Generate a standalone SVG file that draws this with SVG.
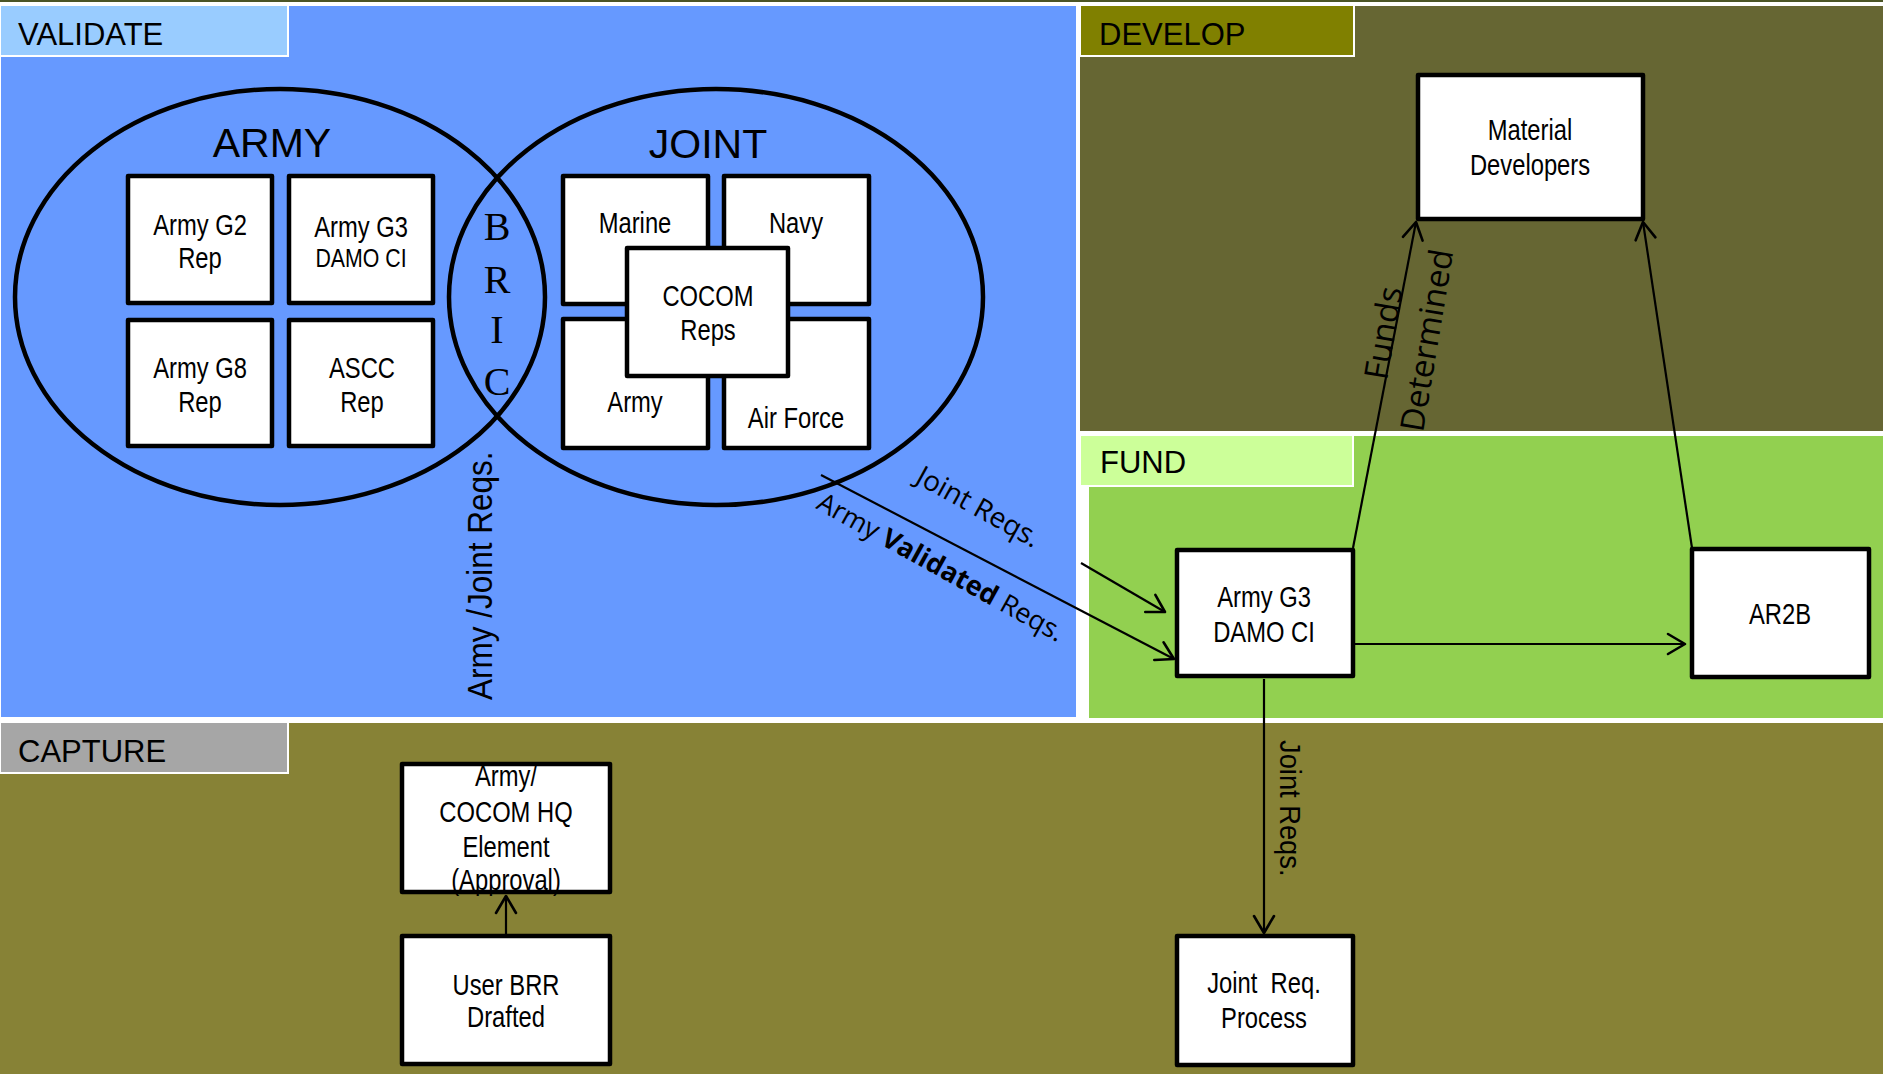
<svg xmlns="http://www.w3.org/2000/svg" width="1883" height="1074" viewBox="0 0 1883 1074">
<style>
.lbl{font-family:"Liberation Sans",Arial,sans-serif;font-size:31px;fill:#000}
.big{font-family:"Liberation Sans",Arial,sans-serif;font-size:41px;fill:#000;text-anchor:middle}
.nt{font-family:"Liberation Sans",Arial,sans-serif;font-size:29px;fill:#000;text-anchor:middle}
.sm{font-size:26px}
.bric{font-family:"Liberation Serif","Times New Roman",serif;font-size:40px;fill:#000;text-anchor:middle}
.hum{font-family:"Open Sans","Noto Sans",sans-serif;font-size:28px;fill:#000}
.hum27{font-size:27px}
.hum33{font-size:33px}
.ari{font-family:"Liberation Sans",Arial,sans-serif;fill:#000}
.a35{font-size:35px}
.a30{font-size:30px}
.box{fill:#fff;stroke:#000;stroke-width:4.5;stroke-linejoin:round}
.ell{fill:none;stroke:#000;stroke-width:4.5}
.con{fill:none;stroke:#000;stroke-width:2.2}
.tag{stroke:#fff;stroke-width:2}
</style>
<defs>
<marker id="arr" markerUnits="userSpaceOnUse" markerWidth="24" markerHeight="26" refX="18" refY="11" orient="auto" overflow="visible">
<path d="M1,1 L18,11 L1,21" fill="none" stroke="#000" stroke-width="2.6" stroke-linejoin="round" stroke-linecap="round"/>
</marker>
</defs>
<rect x="0" y="0" width="1883" height="1074" fill="#fff"/>
<rect x="0" y="0" width="1883" height="2" fill="#4b5526"/>
<g id="panels">
<rect x="1" y="6" width="1075" height="711" fill="#6699ff"/>
<rect class="tag" x="0" y="5" width="288" height="51" fill="#99ccff"/>
<text class="lbl" x="18" y="45">VALIDATE</text>
<rect x="1080" y="6" width="803" height="425" fill="#666633"/>
<rect class="tag" x="1080" y="5" width="274" height="51" fill="#808000"/>
<text class="lbl" x="1099" y="45">DEVELOP</text>
<rect x="1089" y="436" width="794" height="282" fill="#92d050"/>
<rect class="tag" x="1080" y="435" width="273" height="51" fill="#ccff99"/>
<text class="lbl" x="1100" y="473">FUND</text>
<rect x="0" y="723" width="1883" height="351" fill="#878236"/>
<rect class="tag" x="0" y="722" width="288" height="51" fill="#a6a6a6"/>
<text class="lbl" x="18" y="762">CAPTURE</text>
</g>
<g id="army-circle">
<ellipse class="ell" cx="280" cy="297" rx="265" ry="208"/>
<text class="big" x="272" y="157">ARMY</text>
</g>
<g id="joint-circle">
<ellipse class="ell" cx="716" cy="297" rx="267" ry="208"/>
<text class="big" x="708" y="158">JOINT</text>
</g>
<g id="bric">
<text class="bric" x="497" y="240">B</text>
<text class="bric" x="497" y="293">R</text>
<text class="bric" x="497" y="343">I</text>
<text class="bric" x="497" y="395">C</text>
</g>
<g id="army-g2">
<rect class="box" x="128" y="176" width="144" height="127"/>
<g transform="translate(200,0) scale(0.82,1)"><text class="nt" x="0" y="235">Army G2</text><text class="nt" x="0" y="268">Rep</text></g>
</g>
<g id="army-g3-validate">
<rect class="box" x="289" y="176" width="144" height="127"/>
<g transform="translate(361,0) scale(0.82,1)"><text class="nt" x="0" y="237">Army G3</text><text class="nt sm" x="0" y="267">DAMO CI</text></g>
</g>
<g id="army-g8">
<rect class="box" x="128" y="320" width="144" height="126"/>
<g transform="translate(200,0) scale(0.82,1)"><text class="nt" x="0" y="378">Army G8</text><text class="nt" x="0" y="412">Rep</text></g>
</g>
<g id="ascc">
<rect class="box" x="289" y="320" width="144" height="126"/>
<g transform="translate(362,0) scale(0.82,1)"><text class="nt" x="0" y="378">ASCC</text><text class="nt" x="0" y="412">Rep</text></g>
</g>
<g id="marine">
<rect class="box" x="563" y="176" width="145" height="128"/>
<g transform="translate(635,0) scale(0.82,1)"><text class="nt" x="0" y="233">Marine</text></g>
</g>
<g id="navy">
<rect class="box" x="724" y="176" width="145" height="128"/>
<g transform="translate(796,0) scale(0.82,1)"><text class="nt" x="0" y="233">Navy</text></g>
</g>
<g id="army-joint">
<rect class="box" x="563" y="319" width="145" height="129"/>
<g transform="translate(635,0) scale(0.82,1)"><text class="nt" x="0" y="412">Army</text></g>
</g>
<g id="air-force">
<rect class="box" x="724" y="319" width="145" height="129"/>
<g transform="translate(796,0) scale(0.82,1)"><text class="nt" x="0" y="428">Air Force</text></g>
</g>
<g id="cocom-reps">
<rect class="box" x="627" y="248" width="161" height="128"/>
<g transform="translate(708,0) scale(0.82,1)"><text class="nt" x="0" y="306">COCOM</text><text class="nt" x="0" y="340">Reps</text></g>
</g>
<g id="connectors">
<line class="con" x1="506" y1="934" x2="506" y2="896" marker-end="url(#arr)"/>
<line class="con" x1="821" y1="475" x2="1174" y2="659" marker-end="url(#arr)"/>
<line class="con" x1="1081" y1="563" x2="1165" y2="612" marker-end="url(#arr)"/>
<line class="con" x1="1353" y1="548" x2="1416" y2="222" marker-end="url(#arr)"/>
<line class="con" x1="1692" y1="548" x2="1643" y2="222" marker-end="url(#arr)"/>
<line class="con" x1="1355" y1="644" x2="1685" y2="644" marker-end="url(#arr)"/>
<line class="con" x1="1264" y1="679" x2="1264" y2="933" marker-end="url(#arr)"/>
</g>
<g id="connector-labels">
<g transform="translate(492,700) rotate(-90) scale(0.9,1)"><text class="ari a35" x="0" y="0">Army /Joint Reqs.</text></g>
<text class="hum" transform="translate(914,482) rotate(29)">Joint Reqs.</text>
<text class="hum hum27" transform="translate(815,508) rotate(29)">Army <tspan font-weight="bold">Validated</tspan> Reqs.</text>
<text class="hum hum33" transform="translate(1387,381) rotate(-80.5)">Funds</text>
<text class="hum hum33" transform="translate(1423,433) rotate(-80.5)">Determined</text>
<g transform="translate(1280,740) rotate(90) scale(0.91,1)"><text class="ari a30" x="0" y="0">Joint Reqs.</text></g>
</g>
<g id="material-developers">
<rect class="box" x="1418" y="75" width="225" height="144"/>
<g transform="translate(1530,0) scale(0.82,1)"><text class="nt" x="0" y="140">Material</text><text class="nt" x="0" y="175">Developers</text></g>
</g>
<g id="army-g3-fund">
<rect class="box" x="1177" y="550" width="176" height="126"/>
<g transform="translate(1264,0) scale(0.82,1)"><text class="nt" x="0" y="607">Army G3</text><text class="nt" x="0" y="642">DAMO CI</text></g>
</g>
<g id="ar2b">
<rect class="box" x="1692" y="549" width="177" height="128"/>
<g transform="translate(1780,0) scale(0.82,1)"><text class="nt" x="0" y="624">AR2B</text></g>
</g>
<g id="hq-element">
<rect class="box" x="402" y="764" width="208" height="128"/>
<g transform="translate(506,0) scale(0.82,1)"><text class="nt" x="0" y="786">Army/</text><text class="nt" x="0" y="822">COCOM HQ</text><text class="nt" x="0" y="857">Element</text><text class="nt" x="0" y="890">(Approval)</text></g>
</g>
<g id="user-brr">
<rect class="box" x="402" y="936" width="208" height="128"/>
<g transform="translate(506,0) scale(0.82,1)"><text class="nt" x="0" y="995">User BRR</text><text class="nt" x="0" y="1027">Drafted</text></g>
</g>
<g id="joint-req-process">
<rect class="box" x="1177" y="936" width="176" height="129"/>
<g transform="translate(1264,0) scale(0.82,1)"><text class="nt" x="0" y="993" xml:space="preserve">Joint  Req.</text><text class="nt" x="0" y="1028">Process</text></g>
</g>
</svg>
